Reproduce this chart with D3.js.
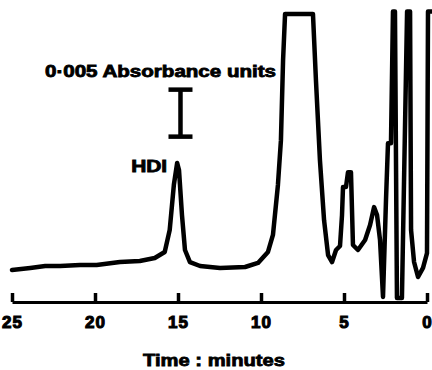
<!DOCTYPE html>
<html>
<head>
<meta charset="utf-8">
<title>HDI chromatogram</title>
<script src="https://d3js.org/d3.v7.min.js"></script>
<style>
  body { margin: 0; background: #fff; }
  text { font-family: "Liberation Sans", Arial, sans-serif; font-weight: bold; fill: #000; stroke: #000; stroke-width: 0.8px; }
</style>
</head>
<body>
<div id="chart"></div>
<script>
// retention time (minutes) and detector response (mAU, relative to start baseline)
var times = [25.0, 23.9, 23.0, 22.1, 20.9, 19.9, 18.5, 17.3, 16.4, 15.8, 15.5, 15.25, 15.05, 14.94, 14.76, 14.58,
  14.28, 13.67, 12.47, 10.96, 10.18, 9.58, 9.28, 8.98, 8.80, 8.67, 8.55, 6.87, 6.69, 6.45, 6.20, 5.96, 5.72,
  5.48, 5.24, 5.12, 5.06, 4.88, 4.76, 4.58, 4.46, 4.16, 3.73, 3.43, 3.19, 3.01, 2.83, 2.65, 2.47, 2.35, 2.17,
  2.05, 1.93, 1.81, 1.51, 1.20, 1.02, 0.96, 0.78, 0.54, 0.24, 0.0, -0.06, -0.3];
var absorb = [0.21, 0.43, 0.64, 0.64, 0.74, 0.74, 1.06, 1.17, 1.49, 2.13, 4.47, 9.26, 11.6, 10.85, 6.06, 2.34,
  1.06, 0.64, 0.43, 0.53, 0.96, 2.13, 3.94, 9.26, 14.0, 22.55, 27.45, 27.45, 20.4, 11.9, 5.5, 1.8, 1.06,
  2.34, 2.77, 6.06, 9.04, 9.04, 10.6, 10.6, 2.87, 2.34, 3.4, 5.0, 6.9, 6.06, 3.4, -2.66, 7.66, 13.7, 13.7,
  27.7, 27.7, -2.77, -2.77, 27.7, 27.7, 4.47, 1.06, -0.53, 0.43, 2.0, 27.7, 27.7];

var tickValues = [25, 20, 15, 10, 5, 0];
var xTitle = "Time : minutes";
var scaleLabel = "0\u00b7005 Absorbance units";
var scaleBar = {time: 14.85, from: 14.4, to: 19.4};   // 5 mAU = 0.005 AU
var peakLabel = {text: "HDI", time: 15.05, value: 11.6};

var width = 432, height = 370;

var svg = d3.select("#chart").append("svg")
  .attr("width", width)
  .attr("height", height);

var x = d3.scaleLinear().domain([25, 0]).range([12, 427]);
var y = d3.scaleLinear().domain([0, 5]).range([272, 225]);
var axisY = 302;

var data = times.map(function(t, i) { return {t: t, v: absorb[i]}; });

// trace
svg.append("path")
  .datum(data)
  .attr("fill", "none")
  .attr("stroke", "#000")
  .attr("stroke-width", 4.5)
  .attr("stroke-linejoin", "round")
  .attr("stroke-linecap", "round")
  .attr("d", d3.line()
    .x(function(d) { return x(d.t); })
    .y(function(d) { return y(d.v); }));

// time axis, ticks pointing up
var axis = svg.append("g")
  .attr("transform", "translate(0," + axisY + ")")
  .call(d3.axisBottom(x).tickValues(tickValues).tickSizeInner(-9).tickSizeOuter(0).tickPadding(14));
axis.select(".domain").attr("stroke", "#000").attr("stroke-width", 3);
axis.selectAll(".tick line").attr("stroke", "#000").attr("stroke-width", 3.5);
axis.selectAll(".tick text")
  .style("font-family", "'Liberation Sans', Arial, sans-serif")
  .style("font-size", "17px")
  .style("font-weight", "bold")
  .style("letter-spacing", "1px")
  .style("stroke", "#000")
  .style("stroke-width", "1.1px");

svg.append("text")
  .attr("x", 214)
  .attr("y", 366)
  .attr("text-anchor", "middle")
  .attr("font-size", 17)
  .attr("textLength", 142)
  .attr("lengthAdjust", "spacingAndGlyphs")
  .text(xTitle);

// absorbance scale bar
var bx = x(scaleBar.time);
var sb = svg.append("g").attr("stroke", "#000").attr("stroke-width", 4.5);
sb.append("line").attr("x1", bx).attr("x2", bx).attr("y1", y(scaleBar.from)).attr("y2", y(scaleBar.to));
sb.append("line").attr("x1", bx - 12).attr("x2", bx + 12).attr("y1", y(scaleBar.from)).attr("y2", y(scaleBar.from));
sb.append("line").attr("x1", bx - 12).attr("x2", bx + 12).attr("y1", y(scaleBar.to)).attr("y2", y(scaleBar.to));

svg.append("text")
  .attr("x", 45)
  .attr("y", 77)
  .attr("font-size", 16)
  .attr("textLength", 231)
  .attr("lengthAdjust", "spacingAndGlyphs")
  .text(scaleLabel);

svg.append("text")
  .attr("x", x(peakLabel.time) - 10)
  .attr("y", y(peakLabel.value) + 9)
  .attr("text-anchor", "end")
  .attr("font-size", 16)
  .attr("textLength", 36)
  .attr("lengthAdjust", "spacingAndGlyphs")
  .text(peakLabel.text);
</script>
</body>
</html>
